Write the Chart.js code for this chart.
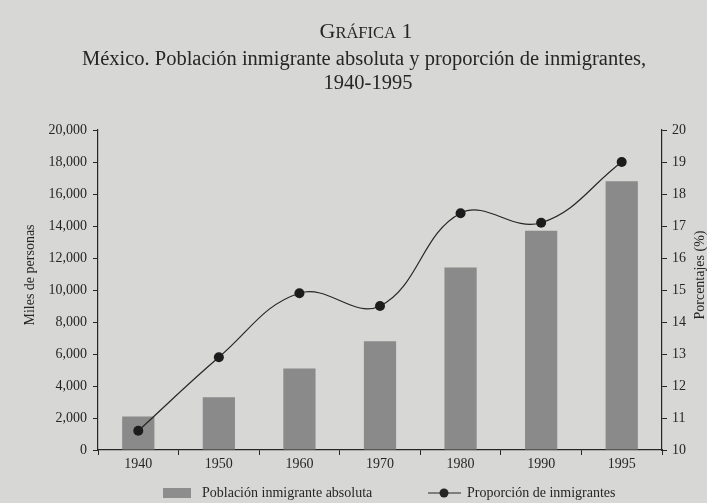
<!DOCTYPE html>
<html>
<head>
<meta charset="utf-8">
<script src="https://cdn.jsdelivr.net/npm/chart.js@4.4.0/dist/chart.umd.min.js"></script>
<style>
  html, body { margin: 0; padding: 0; background: #d7d7d5; overflow: hidden; }
  #wrap { width: 707px; height: 503px; position: relative; }
</style>
</head>
<body>
<div id="wrap"><canvas id="grafica" width="707" height="503"></canvas></div>
<script>
// --- Data ---
const years = ['1940', '1950', '1960', '1970', '1980', '1990', '1995'];
const inmigrantes = [2100, 3300, 5100, 6800, 11400, 13700, 16800];   // miles de personas
const proporcion = [10.6, 12.9, 14.9, 14.5, 17.4, 17.1, 19.0];        // %
const ejeIzqTicks = [0, 2000, 4000, 6000, 8000, 10000, 12000, 14000, 16000, 18000, 20000];
const ejeDerTicks = [10, 11, 12, 13, 14, 15, 16, 17, 18, 19, 20];

const ink = '#262626';
const serif = "'Liberation Serif', 'DejaVu Serif', serif";

// Heading, axis titles and legend, drawn like the printed page
const pagePlugin = {
    id: 'pagePlugin',
    afterDraw(chart) {
        const ctx = chart.ctx;
        ctx.save();
        ctx.fillStyle = ink;
        ctx.textBaseline = 'alphabetic';

        // "GRÁFICA 1" in small caps
        const parts = [['G', 22], ['RÁFICA', 16.5], [' 1', 22]];
        let total = 0;
        parts.forEach(p => { ctx.font = `${p[1]}px ${serif}`; total += ctx.measureText(p[0]).width; });
        let x = 366 - total / 2;
        parts.forEach(p => {
            ctx.font = `${p[1]}px ${serif}`;
            ctx.textAlign = 'left';
            ctx.fillText(p[0], x, 38);
            x += ctx.measureText(p[0]).width;
        });

        ctx.textAlign = 'center';
        ctx.font = `20.5px ${serif}`;
        ctx.fillText('México. Población inmigrante absoluta y proporción de inmigrantes,', 364, 65);
        ctx.fillText('1940-1995', 368, 89);

        // Axis titles, both reading bottom to top
        ctx.font = `14px ${serif}`;
        ctx.textBaseline = 'middle';
        [['Miles de personas', 30], ['Porcentajes (%)', 700]].forEach(t => {
            ctx.save();
            ctx.translate(t[1], 275);
            ctx.rotate(-Math.PI / 2);
            ctx.fillText(t[0], 0, 0);
            ctx.restore();
        });

        // Legend
        ctx.textAlign = 'left';
        ctx.fillStyle = '#8d8d8d';
        ctx.fillRect(163, 488, 28, 10);
        ctx.fillStyle = ink;
        ctx.fillText('Población inmigrante absoluta', 202, 493);

        ctx.strokeStyle = ink;
        ctx.lineWidth = 1.2;
        ctx.beginPath();
        ctx.moveTo(428, 493);
        ctx.lineTo(461, 493);
        ctx.stroke();
        ctx.beginPath();
        ctx.arc(444, 493, 4.5, 0, Math.PI * 2);
        ctx.fill();
        ctx.fillText('Proporción de inmigrantes', 467, 493);
        ctx.restore();
    }
};

const ctx = document.getElementById('grafica');
new Chart(ctx, {
    type: 'bar',
    data: {
        labels: years,
        datasets: [
            {
                type: 'line',
                label: 'Proporción de inmigrantes',
                data: proporcion,
                yAxisID: 'yDer',
                borderColor: ink,
                borderWidth: 1.2,
                backgroundColor: '#1c1c1c',
                pointRadius: 5,
                pointBorderWidth: 0,
                tension: 0.4,
                order: 0
            },
            {
                label: 'Población inmigrante absoluta',
                data: inmigrantes,
                yAxisID: 'yIzq',
                backgroundColor: '#8a8a8a',
                barPercentage: 0.4,
                categoryPercentage: 1,
                order: 1
            }
        ]
    },
    options: {
        responsive: false,
        animation: false,
        layout: { padding: { top: 130, left: 0, right: 0, bottom: 0 } },
        plugins: {
            legend: { display: false },
            tooltip: { enabled: false }
        },
        scales: {
            x: {
                border: { color: ink, width: 1.2 },
                grid: { drawOnChartArea: false, color: ink, tickLength: 5, offset: true },
                ticks: { color: ink, font: { family: serif, size: 14 }, padding: 1, autoSkip: false, maxRotation: 0 },
                afterFit: scale => { scale.height = 53; }
            },
            yIzq: {
                position: 'left',
                min: 0,
                max: 20000,
                afterBuildTicks: scale => { scale.ticks = ejeIzqTicks.map(v => ({ value: v })); },
                border: { color: ink, width: 1.2 },
                grid: { drawOnChartArea: false, color: ink, tickLength: 5 },
                ticks: {
                    color: ink,
                    font: { family: serif, size: 14 },
                    padding: 6,
                    callback: v => v.toLocaleString('en-US')
                },
                afterFit: scale => { scale.width = 98; }
            },
            yDer: {
                position: 'right',
                min: 10,
                max: 20,
                afterBuildTicks: scale => { scale.ticks = ejeDerTicks.map(v => ({ value: v })); },
                border: { color: ink, width: 1.2 },
                grid: { drawOnChartArea: false, color: ink, tickLength: 5 },
                ticks: { color: ink, font: { family: serif, size: 14 }, padding: 5 },
                afterFit: scale => { scale.width = 45; }
            }
        }
    },
    plugins: [pagePlugin]
});
</script>
</body>
</html>
